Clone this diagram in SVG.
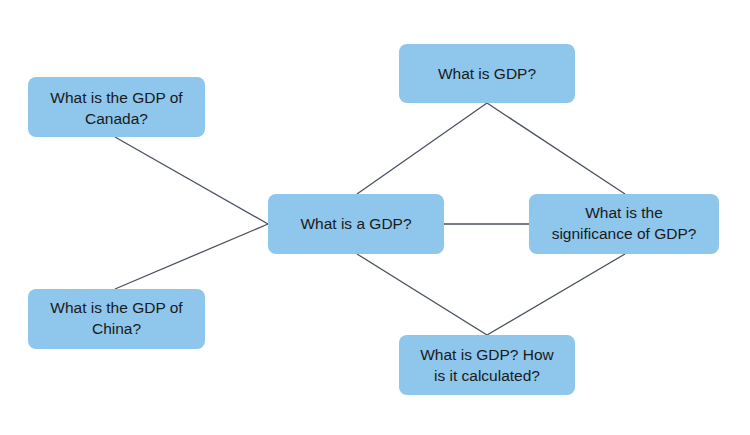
<svg xmlns="http://www.w3.org/2000/svg" width="750" height="435" viewBox="0 0 750 435">
<style>
.box{fill:#8EC6EC;stroke:none}
.t{font-family:"Liberation Sans",Arial,sans-serif;font-size:15.5px;fill:#1a1a1a;text-anchor:middle}
.c{stroke:#4a5260;stroke-width:1.3;fill:none}
</style>
<rect width="750" height="435" fill="#ffffff"/>
<g id="connectors">
<line class="c" x1="115" y1="137" x2="268" y2="224"/>
<line class="c" x1="115" y1="289" x2="268" y2="224"/>
<polyline class="c" points="357,194 487,103 625,194"/>
<polyline class="c" points="357,254 487,335 625,254"/>
<line class="c" x1="444" y1="224" x2="529" y2="224"/>
</g>
<g id="canada">
<rect class="box" x="28" y="77" width="177" height="60" rx="8"/>
<text class="t" x="116.5" y="103">What is the GDP of</text>
<text class="t" x="116.5" y="124">Canada?</text>
</g>
<g id="china">
<rect class="box" x="28" y="289" width="177" height="60" rx="8"/>
<text class="t" x="116.5" y="313">What is the GDP of</text>
<text class="t" x="116.5" y="334">China?</text>
</g>
<g id="center">
<rect class="box" x="268" y="194" width="176" height="60" rx="8"/>
<text class="t" x="356" y="229">What is a GDP?</text>
</g>
<g id="significance">
<rect class="box" x="529" y="194" width="190" height="60" rx="8"/>
<text class="t" x="624" y="218">What is the</text>
<text class="t" x="624" y="239">significance of GDP?</text>
</g>
<g id="whatis">
<rect class="box" x="399" y="44" width="176" height="59" rx="8"/>
<text class="t" x="487" y="79">What is GDP?</text>
</g>
<g id="calculated">
<rect class="box" x="399" y="335" width="176" height="60" rx="8"/>
<text class="t" x="487" y="360">What is GDP? How</text>
<text class="t" x="487" y="381">is it calculated?</text>
</g>
</svg>
